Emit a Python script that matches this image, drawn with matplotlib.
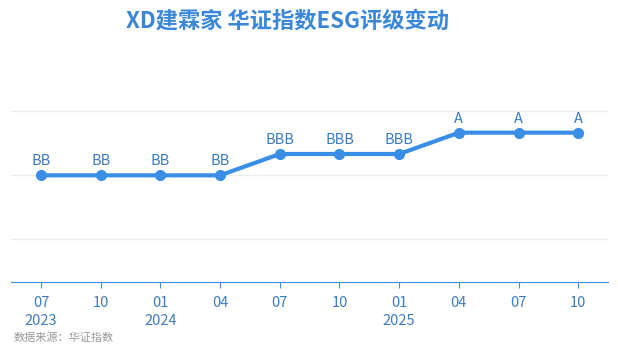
import matplotlib

matplotlib.use("Agg")
import matplotlib.pyplot as plt

plt.rcParams["font.family"] = ["Noto Sans CJK SC", "DejaVu Sans"]

DATES = ["07\n2023", "10", "01\n2024", "04", "07", "10", "01\n2025", "04", "07", "10"]
RATINGS = ["BB", "BB", "BB", "BB", "BBB", "BBB", "BBB", "A", "A", "A"]
SCALE = {"B": 2, "BB": 3, "BBB": 4, "A": 5, "AA": 6}
BLUE = "#3a8ee6"
TXT = "#3d7cc0"

vals = [SCALE[r] for r in RATINGS]
x = list(range(len(DATES)))

fig = plt.figure(figsize=(6.18, 3.55), dpi=100)
ax = fig.add_axes([0.018, 0.2056, 0.966, 0.601])
ax.plot(x, vals, color=BLUE, lw=3, marker="o", ms=7, solid_capstyle="round")
for xi, v, r in zip(x, vals, RATINGS):
    ax.annotate(r, (xi, v), xytext=(0, 5), textcoords="offset points",
                ha="center", va="bottom", fontsize=10.5, color=TXT)

ax.set_xlim(-0.5, len(DATES) - 0.5)
ax.set_ylim(-2, 8)
ax.set_yticks([0, 3, 6])
ax.yaxis.grid(True, color="#eeeeee", lw=1)
ax.tick_params(axis="y", left=False, labelleft=False)
ax.set_xticks(x)
ax.set_xticklabels(DATES, fontsize=10.5, color=TXT, linespacing=1.35)
ax.tick_params(axis="x", color=BLUE, length=4, pad=6)
for s in ("top", "right", "left"):
    ax.spines[s].set_visible(False)
ax.spines["bottom"].set_color(BLUE)
ax.set_axisbelow(True)

fig.text(0.465, 0.94, "XD建霖家 华证指数ESG评级变动", ha="center", va="center",
         fontsize=16, fontweight="bold", color="#3a86d8")
fig.text(0.022, 0.048, "数据来源：华证指数", ha="left", va="center",
         fontsize=8, color="#999999")

fig.savefig("out.png", dpi=100)
